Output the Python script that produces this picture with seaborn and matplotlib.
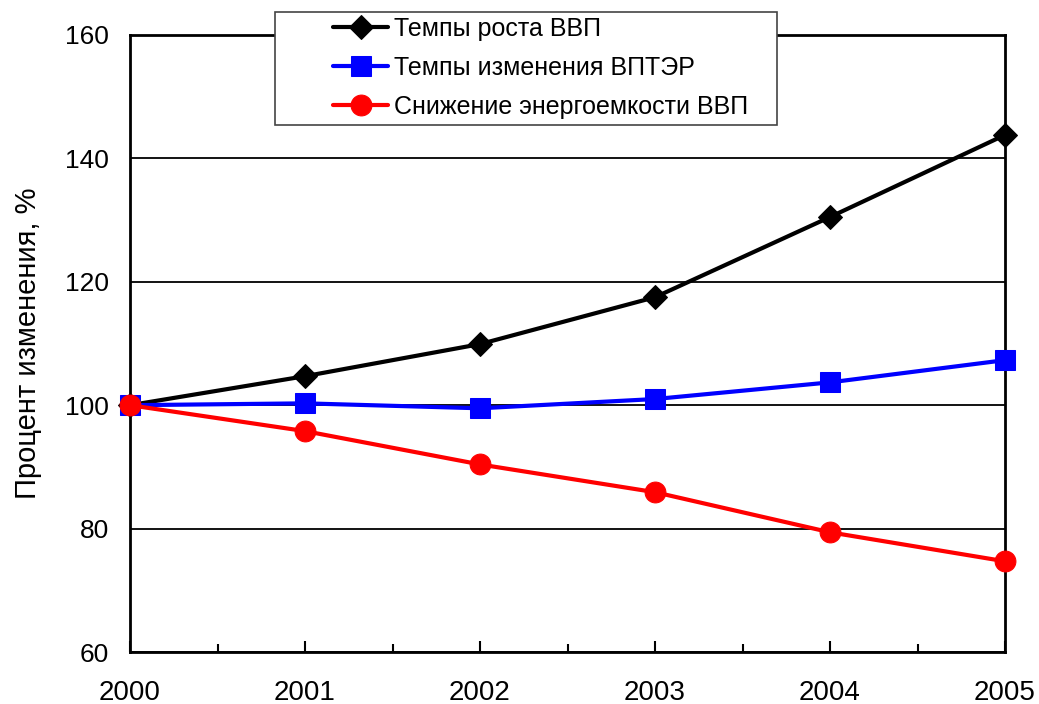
import pandas as pd
import matplotlib.pyplot as plt
import seaborn as sns
from matplotlib.ticker import MultipleLocator
from matplotlib.patches import Rectangle

years = [2000, 2001, 2002, 2003, 2004, 2005]
gdp_growth = [100, 104.7, 109.9, 117.5, 130.5, 143.8]
energy_use = [100, 100.3, 99.5, 101.0, 103.7, 107.3]
intensity_drop = [100, 95.8, 90.4, 85.9, 79.4, 74.7]

series_names = ["Темпы роста ВВП", "Темпы изменения ВПТЭР", "Снижение энергоемкости ВВП"]
colors = ["black", "#0000ff", "#ff0000"]
markers = ["D", "s", "o"]
marker_sizes = [12, 15, 15]

df = pd.DataFrame({"Год": years,
                   series_names[0]: gdp_growth,
                   series_names[1]: energy_use,
                   series_names[2]: intensity_drop})
long_df = df.melt(id_vars="Год", var_name="Ряд", value_name="Процент")

sns.set_style("white")
plt.rcParams['font.family'] = ['Liberation Sans', 'DejaVu Sans']
plt.rcParams['text.color'] = 'black'
plt.rcParams['xtick.color'] = 'black'
plt.rcParams['ytick.color'] = 'black'
plt.rcParams['axes.labelcolor'] = 'black'

W, H = 1039, 704
fig = plt.figure(figsize=(W / 100, H / 100), dpi=100)
ax = fig.add_axes([130 / W, 1 - 652 / H, 875 / W, 617 / H])

for name, color, mk, ms in zip(series_names, colors, markers, marker_sizes):
    sub = long_df[long_df["Ряд"] == name]
    sns.lineplot(data=sub, x="Год", y="Процент", ax=ax, color=color, lw=3,
                 marker=mk, markersize=ms, markeredgecolor=color,
                 label=name, clip_on=False, zorder=3)

ax.set_xlim(2000, 2005)
ax.set_ylim(60, 160)
ax.yaxis.set_major_locator(MultipleLocator(20))
ax.xaxis.set_minor_locator(MultipleLocator(0.5))
ax.set_xticks(years)
ax.set_xticklabels([str(y) for y in years])

ax.grid(axis="y", color="black", lw=1.3)
ax.set_axisbelow(True)
for s in ax.spines.values():
    s.set_color("black")
    s.set_linewidth(2)

ax.tick_params(axis="x", which="major", direction="in", length=8, width=1.5,
               labelsize=20, pad=20, bottom=True)
ax.tick_params(axis="x", which="minor", direction="in", length=6, width=1.5, bottom=True)
ax.tick_params(axis="y", length=0, labelsize=19, pad=15, left=True)

ax.set_xlabel("")
ax.set_ylabel("Процент изменения, %", fontsize=21)
ax.yaxis.set_label_coords(-0.1, 0.5)

# legend box
box = Rectangle((275 / W, 1 - 125 / H), 502 / W, 113 / H,
                transform=fig.transFigure, facecolor="white",
                edgecolor="#444444", lw=1.2, zorder=4, clip_on=False)
ax.add_patch(box)
leg = ax.legend(loc="upper left", bbox_to_anchor=(333 / W, 1 - 17 / H),
                bbox_transform=fig.transFigure, fontsize=18, frameon=False,
                handlelength=2.2, handletextpad=0.25, labelspacing=0.6,
                borderpad=0, borderaxespad=0)
leg.set_zorder(6)

fig.savefig("out.png", dpi=100)
